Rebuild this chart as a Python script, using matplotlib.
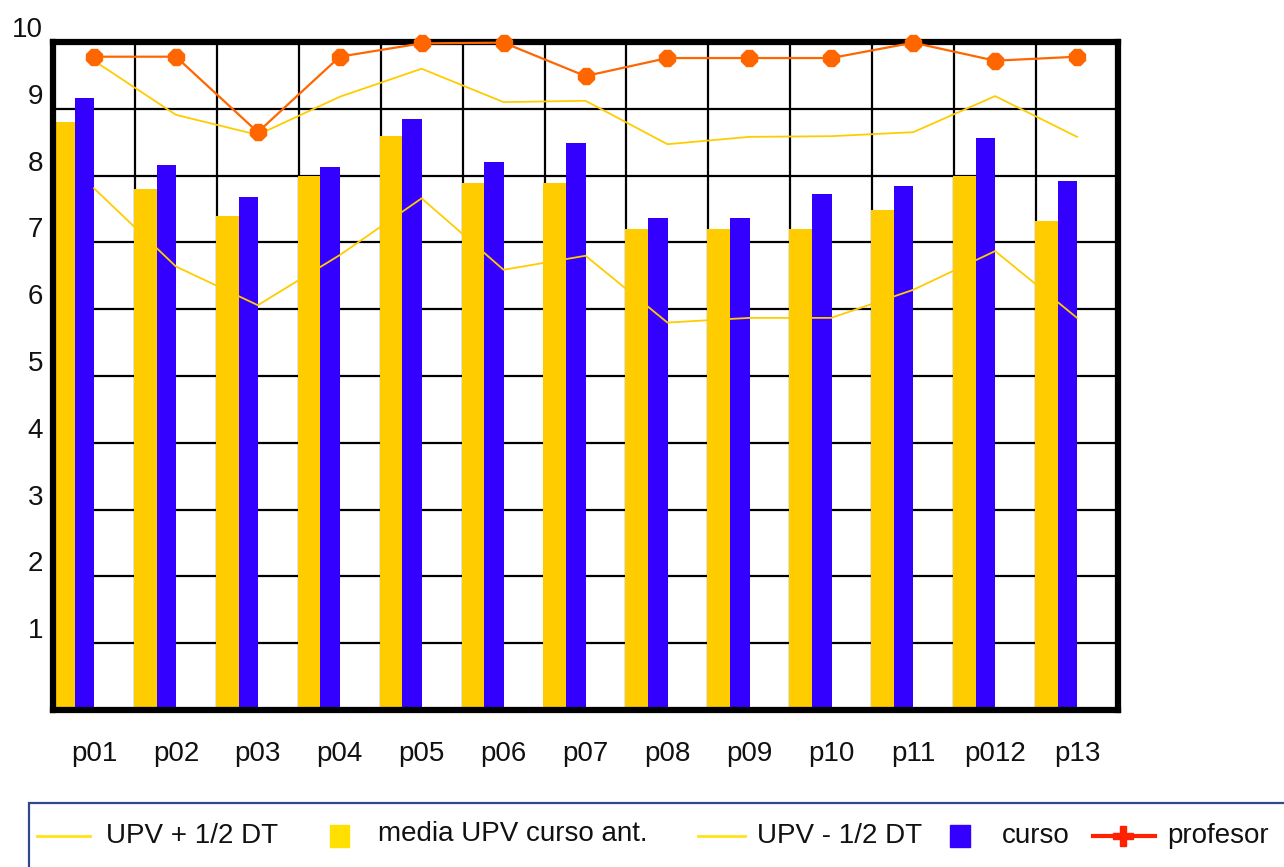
import matplotlib
matplotlib.use("Agg")
import matplotlib.pyplot as plt
import matplotlib.transforms as mtransforms
from matplotlib.lines import Line2D
from matplotlib.patches import Rectangle
import numpy as np

plt.rcParams['font.family'] = ['Liberation Sans', 'DejaVu Sans']

# data
preguntas = ['p01', 'p02', 'p03', 'p04', 'p05', 'p06', 'p07',
             'p08', 'p09', 'p10', 'p11', 'p012', 'p13']
media_upv = [8.80, 7.80, 7.40, 8.00, 8.59, 7.89, 7.89, 7.20, 7.20, 7.20, 7.49, 8.00, 7.32]
curso = [9.16, 8.16, 7.68, 8.13, 8.85, 8.20, 8.49, 7.36, 7.36, 7.72, 7.84, 8.56, 7.92]
upv_mas = [9.72, 8.91, 8.61, 9.18, 9.60, 9.10, 9.12, 8.47, 8.58, 8.59, 8.65, 9.19, 8.58]
upv_menos = [7.81, 6.64, 6.06, 6.81, 7.66, 6.59, 6.80, 5.80, 5.87, 5.87, 6.29, 6.87, 5.87]
profesor = [9.78, 9.78, 8.65, 9.78, 9.98, 9.99, 9.49, 9.76, 9.76, 9.76, 9.99, 9.72, 9.78]
yticks = [1, 2, 3, 4, 5, 6, 7, 8, 9, 10]

W, H = 1284, 867
fig = plt.figure(figsize=(W / 100, H / 100), dpi=100)
ax = fig.add_axes([53 / W, (H - 710) / H, (1118 - 53) / W, (710 - 42) / H])

x = np.arange(len(preguntas))
amarillo = '#FFCC00'
azul = '#3300FF'
naranja = '#FF6600'

ax.bar(x - 0.513, media_upv, width=0.28, align='edge', color=amarillo, zorder=3)
ax.bar(x - 0.235, curso, width=0.238, align='edge', color=azul, zorder=3)

ax.plot(x, upv_mas, color=amarillo, lw=1.3, zorder=5)
ax.plot(x, upv_menos, color=amarillo, lw=1.3, zorder=5)
ax.plot(x, profesor, color=naranja, lw=1.6, marker='8', ms=12,
        mec=naranja, mfc=naranja, zorder=6, clip_on=False)

ax.set_xlim(-0.5, len(preguntas) - 0.5)
ax.set_ylim(0, 10)

# grid
for v in yticks[:-1]:
    ax.axhline(v, color='black', lw=1.6, zorder=1)
for b in x[1:] - 0.5:
    ax.axvline(b, color='black', lw=1.6, zorder=1)

for s in ax.spines.values():
    s.set_linewidth(4.5)
    s.set_zorder(4)

ax.set_xticks(x)
ax.set_xticklabels(preguntas, fontsize=20, color='#111111')
ax.set_yticks(yticks)
ax.set_yticklabels([str(v) for v in yticks], fontsize=20, color='#111111')
ax.tick_params(axis='x', length=0, pad=22)
ax.tick_params(axis='y', length=0, pad=7)

offset = mtransforms.ScaledTranslation(0, 15 / 100, fig.dpi_scale_trans)
for lab in ax.get_yticklabels():
    lab.set_transform(lab.get_transform() + offset)


# legend drawn in pixel positions of the figure
def fx(px):
    return px / W


def fy(py):
    return (H - py) / H


fig.add_artist(Rectangle((fx(29), fy(880)), fx(1300) - fx(29), fy(803) - fy(880),
                         transform=fig.transFigure, fill=False,
                         ec='#2E4A8C', lw=1.6))

ly = fy(836)
leg_txt = dict(fontsize=20, color='#111111', va='center', ha='left')

fig.add_artist(Line2D([fx(37), fx(90)], [ly, ly], transform=fig.transFigure,
                      color='#FFE21A', lw=2))
fig.text(fx(106), ly, 'UPV + 1/2 DT', **leg_txt)

fig.add_artist(Rectangle((fx(330), fy(847)), fx(349) - fx(330), fy(825) - fy(847),
                         transform=fig.transFigure, color='#FFE000'))
fig.text(fx(378), fy(834), 'media UPV curso ant.', **leg_txt)

fig.add_artist(Line2D([fx(698), fx(745)], [ly, ly], transform=fig.transFigure,
                      color='#FFE21A', lw=2))
fig.text(fx(757), ly, 'UPV - 1/2 DT', **leg_txt)

fig.add_artist(Rectangle((fx(950), fy(847)), fx(970) - fx(950), fy(825) - fy(847),
                         transform=fig.transFigure, color=azul))
fig.text(fx(1002), ly, 'curso', **leg_txt)

fig.add_artist(Line2D([fx(1093), fx(1155)], [ly, ly], transform=fig.transFigure,
                      color='#FF2200', lw=3))
fig.add_artist(Line2D([fx(1123)], [ly], transform=fig.transFigure,
                      color='#FF2200', marker='P', ms=15, lw=0))
fig.text(fx(1167), ly, 'profesor', **leg_txt)

fig.savefig('out.png', dpi=100)
